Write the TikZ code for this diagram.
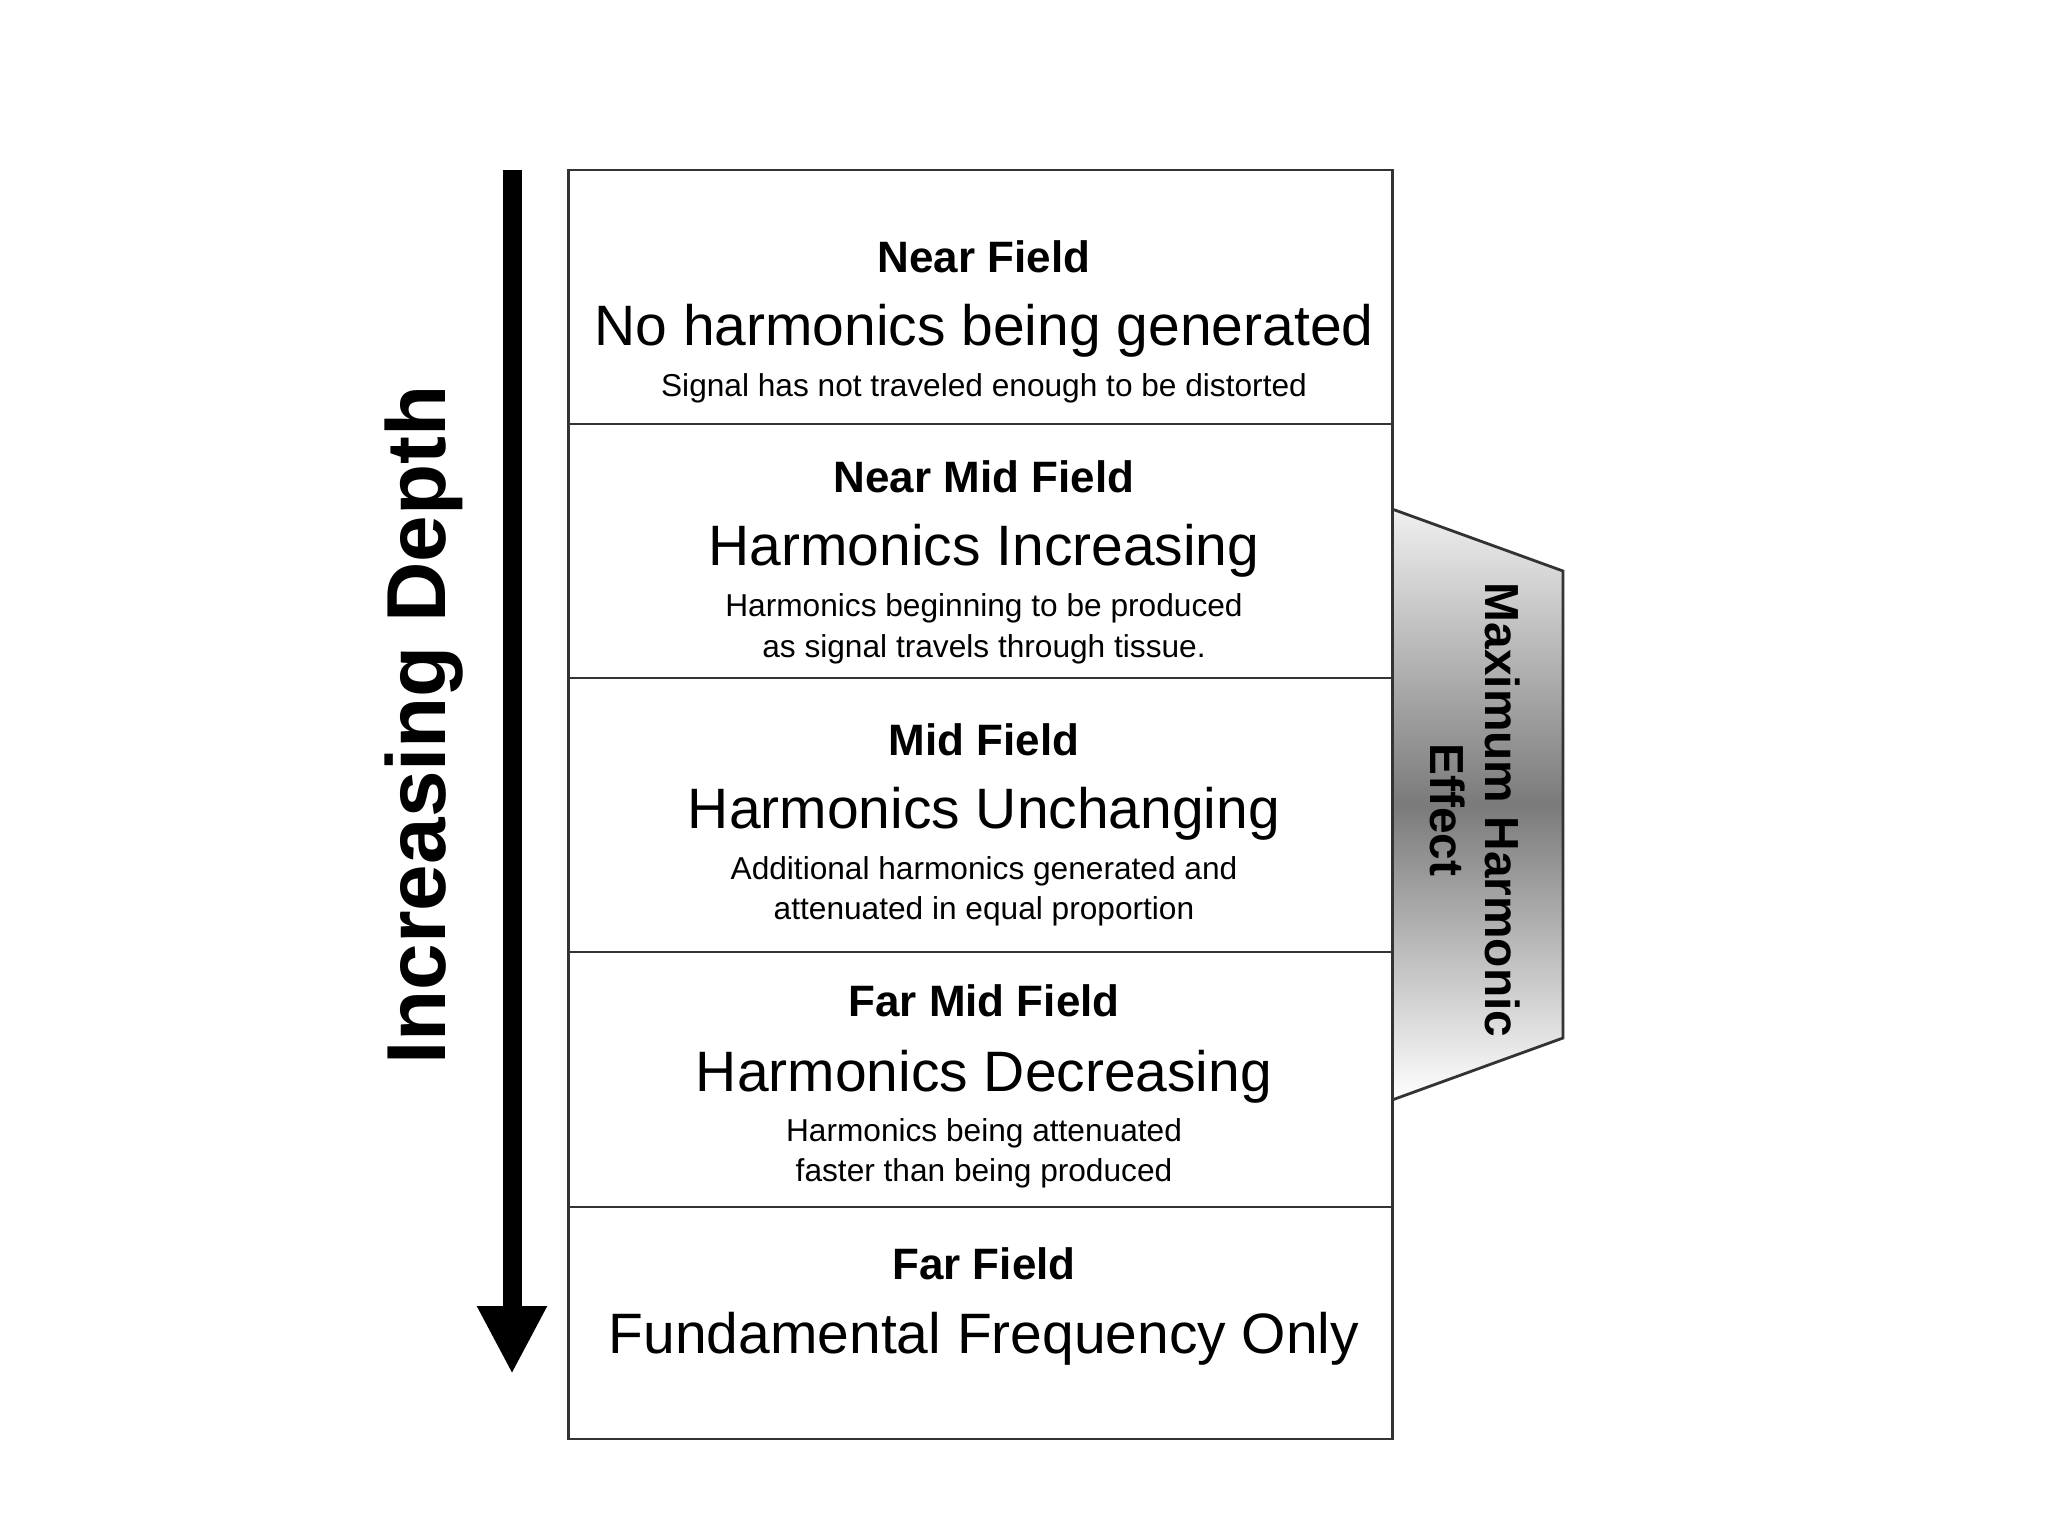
\documentclass[tikz,border=0pt]{standalone}
\usepackage{fontspec}
\setmainfont{Liberation Sans}
\usetikzlibrary{arrows.meta}

\pgfdeclareverticalshading{effectshade}{100bp}{%
  color(0bp)=(white); color(25bp)=(white); color(50bp)=(black!52);
  color(75bp)=(white!94!black); color(100bp)=(white!94!black)}

\begin{document}
\begin{tikzpicture}[x=0.01cm, y=0.01cm,
      zone/.style={rectangle, draw=black!80, line width=0.8pt, fill=white,
          minimum width=8.23cm, inner sep=0pt},
      ttl/.style={anchor=base, inner sep=0pt, font=\fontsize{12.5}{15}\selectfont\bfseries},
      big/.style={anchor=base, inner sep=0pt, font=\fontsize{16.2}{19}\selectfont},
      sml/.style={anchor=base, inner sep=0pt, font=\fontsize{9}{11}\selectfont},
      deptharr/.style={-{Triangle[width=18.5pt, length=19.3pt]}, line width=5.4pt, black},
    ]
    \path[use as bounding box] (0,0) rectangle (2048,-1536);

    %% -- maximum harmonic effect (behind the zones) --
    \path[shading=effectshade, draw=black!80, line width=0.8pt]
      (1392,-509) -- (1563,-571) -- (1563,-1038) -- (1392,-1100) -- cycle;
    \node[rotate=-90, align=center, inner sep=0pt,
        font=\fontsize{13.6}{15.6}\selectfont\bfseries] (effect) at (1475,-810)
    {Maximum Harmonic\\Effect};

    %% -- zones --
    \node[zone, minimum height=2.54cm] (near)   at (980.5,-297)    {};
    \node[zone, minimum height=2.54cm] (nearmid) at (980.5,-551)   {};
    \node[zone, minimum height=2.74cm] (mid)    at (980.5,-815)    {};
    \node[zone, minimum height=2.55cm] (farmid) at (980.5,-1079.5) {};
    \node[zone, minimum height=2.32cm] (far)    at (980.5,-1323)   {};

    %% -- near field --
    \node[ttl] (nearT)  at (984,-272) {Near Field};
    \node[big] (nearB)  at (984,-345) {No harmonics being generated};
    \node[sml] (nearS)  at (984,-396) {Signal has not traveled enough to be distorted};

    %% -- near mid field --
    \node[ttl] (nearmidT)  at (984,-492) {Near Mid Field};
    \node[big] (nearmidB)  at (984,-565) {Harmonics Increasing};
    \node[sml] (nearmidS1) at (984,-616) {Harmonics beginning to be produced};
    \node[sml] (nearmidS2) at (984,-657) {as signal travels through tissue.};

    %% -- mid field --
    \node[ttl] (midT)  at (984,-755) {Mid Field};
    \node[big] (midB)  at (984,-828) {Harmonics Unchanging};
    \node[sml] (midS1) at (984,-879) {Additional harmonics generated and};
    \node[sml] (midS2) at (984,-919) {attenuated in equal proportion};

    %% -- far mid field --
    \node[ttl] (farmidT)  at (984,-1016) {Far Mid Field};
    \node[big] (farmidB)  at (984,-1091) {Harmonics Decreasing};
    \node[sml] (farmidS1) at (984,-1141) {Harmonics being attenuated};
    \node[sml] (farmidS2) at (984,-1181) {faster than being produced};

    %% -- far field --
    \node[ttl] (farT) at (984,-1279) {Far Field};
    \node[big] (farB) at (984,-1353) {Fundamental Frequency Only};

    %% -- depth arrow --
    \coordinate (depthtop) at (512,-170);
    \coordinate (depthtip) at (512,-1374);
    \draw[deptharr] (depthtop) -- (depthtip);
    \node[rotate=90, inner sep=0pt, font=\fontsize{23.8}{28}\selectfont\bfseries]
      (depthlbl) at (424,-725) {Increasing Depth};

  \end{tikzpicture}
\end{document}
